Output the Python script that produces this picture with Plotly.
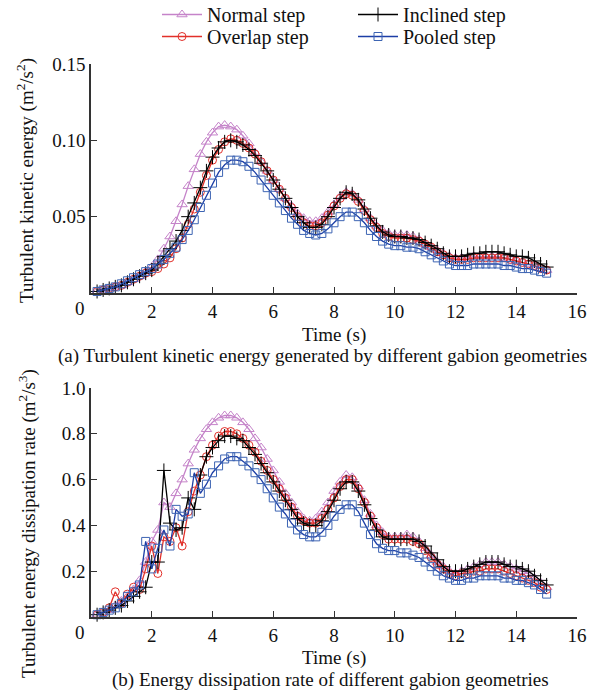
import plotly.graph_objects as go

# ---------------- data ----------------
time_s = [0.2, 0.4, 0.6, 0.8, 1.0, 1.2, 1.4, 1.6, 1.8, 2.0,
          2.2, 2.4, 2.6, 2.8, 3.0, 3.2, 3.4, 3.6, 3.8, 4.0,
          4.2, 4.4, 4.6, 4.8, 5.0, 5.2, 5.4, 5.6, 5.8, 6.0,
          6.2, 6.4, 6.6, 6.8, 7.0, 7.2, 7.4, 7.6, 7.8, 8.0,
          8.2, 8.4, 8.6, 8.8, 9.0, 9.2, 9.4, 9.6, 9.8, 10.0,
          10.2, 10.4, 10.6, 10.8, 11.0, 11.2, 11.4, 11.6, 11.8, 12.0,
          12.2, 12.4, 12.6, 12.8, 13.0, 13.2, 13.4, 13.6, 13.8, 14.0,
          14.2, 14.4, 14.6, 14.8, 15.0]

# (a) turbulent kinetic energy (m2/s2)
tke_normal = [0.001, 0.002, 0.003, 0.004, 0.005, 0.007, 0.009, 0.011, 0.014, 0.017,
              0.022, 0.029, 0.037, 0.047, 0.058, 0.070, 0.081, 0.091, 0.099, 0.105,
              0.109, 0.110, 0.109, 0.107, 0.103, 0.098, 0.092, 0.086, 0.080, 0.074,
              0.068, 0.062, 0.057, 0.052, 0.049, 0.047, 0.047, 0.049, 0.053, 0.058,
              0.063, 0.066, 0.065, 0.061, 0.055, 0.049, 0.044, 0.041, 0.039, 0.038,
              0.038, 0.038, 0.037, 0.035, 0.032, 0.030, 0.028, 0.026, 0.024, 0.023,
              0.023, 0.023, 0.024, 0.024, 0.024, 0.024, 0.024, 0.023, 0.022, 0.021,
              0.020, 0.019, 0.018, 0.016, 0.015]
tke_overlap = [0.001, 0.002, 0.003, 0.004, 0.005, 0.007, 0.009, 0.011, 0.013, 0.014,
               0.016, 0.019, 0.023, 0.029, 0.036, 0.045, 0.055, 0.066, 0.077, 0.087,
               0.094, 0.099, 0.101, 0.100, 0.098, 0.095, 0.091, 0.086, 0.080, 0.074,
               0.068, 0.062, 0.056, 0.050, 0.046, 0.044, 0.044, 0.046, 0.051, 0.057,
               0.062, 0.065, 0.064, 0.060, 0.054, 0.048, 0.043, 0.039, 0.037, 0.036,
               0.036, 0.036, 0.035, 0.034, 0.032, 0.030, 0.027, 0.025, 0.023, 0.022,
               0.022, 0.022, 0.023, 0.023, 0.023, 0.023, 0.023, 0.023, 0.022, 0.021,
               0.020, 0.019, 0.018, 0.016, 0.015]
tke_inclined = [0.001, 0.002, 0.003, 0.004, 0.005, 0.007, 0.009, 0.011, 0.013, 0.015,
                0.019, 0.024, 0.029, 0.034, 0.041, 0.050, 0.059, 0.069, 0.080, 0.089,
                0.095, 0.099, 0.100, 0.099, 0.097, 0.094, 0.090, 0.085, 0.080, 0.074,
                0.068, 0.062, 0.056, 0.050, 0.046, 0.043, 0.043, 0.045, 0.050, 0.056,
                0.062, 0.066, 0.065, 0.061, 0.055, 0.049, 0.044, 0.040, 0.038, 0.037,
                0.037, 0.036, 0.036, 0.035, 0.033, 0.031, 0.029, 0.026, 0.024, 0.024,
                0.024, 0.025, 0.026, 0.026, 0.027, 0.027, 0.027, 0.026, 0.025, 0.024,
                0.024, 0.023, 0.021, 0.019, 0.017]
tke_pooled = [0.001, 0.002, 0.003, 0.004, 0.006, 0.008, 0.010, 0.012, 0.014, 0.016,
              0.019, 0.022, 0.026, 0.030, 0.035, 0.041, 0.048, 0.056, 0.064, 0.072,
              0.079, 0.084, 0.087, 0.087, 0.086, 0.083, 0.079, 0.074, 0.069, 0.064,
              0.059, 0.054, 0.049, 0.045, 0.041, 0.039, 0.038, 0.039, 0.042, 0.046,
              0.050, 0.053, 0.053, 0.050, 0.046, 0.041, 0.037, 0.034, 0.032, 0.031,
              0.031, 0.030, 0.030, 0.029, 0.027, 0.025, 0.023, 0.021, 0.019, 0.018,
              0.018, 0.018, 0.019, 0.019, 0.019, 0.019, 0.019, 0.018, 0.018, 0.017,
              0.016, 0.016, 0.015, 0.014, 0.013]

# (b) turbulent energy dissipation rate (m2/s3)
edr_normal = [0.01, 0.02, 0.03, 0.05, 0.07, 0.09, 0.12, 0.16, 0.24, 0.33,
              0.38, 0.50, 0.48, 0.54, 0.60, 0.67, 0.73, 0.78, 0.82, 0.85,
              0.87, 0.88, 0.88, 0.87, 0.85, 0.82, 0.78, 0.74, 0.69, 0.64,
              0.59, 0.54, 0.50, 0.46, 0.43, 0.42, 0.43, 0.46, 0.50, 0.55,
              0.59, 0.62, 0.61, 0.57, 0.51, 0.45, 0.40, 0.37, 0.35, 0.35,
              0.35, 0.36, 0.35, 0.33, 0.30, 0.27, 0.24, 0.22, 0.20, 0.19,
              0.20, 0.21, 0.22, 0.23, 0.24, 0.24, 0.24, 0.23, 0.22, 0.21,
              0.20, 0.19, 0.17, 0.15, 0.13]
edr_overlap = [0.01, 0.02, 0.04, 0.11, 0.06, 0.10, 0.13, 0.12, 0.21, 0.31,
               0.19, 0.35, 0.33, 0.39, 0.31, 0.46, 0.55, 0.62, 0.70, 0.75,
               0.79, 0.81, 0.81, 0.80, 0.78, 0.75, 0.72, 0.68, 0.64, 0.60,
               0.56, 0.52, 0.48, 0.44, 0.42, 0.41, 0.41, 0.43, 0.47, 0.52,
               0.57, 0.60, 0.60, 0.56, 0.50, 0.44, 0.39, 0.36, 0.34, 0.34,
               0.34, 0.34, 0.33, 0.32, 0.29, 0.26, 0.23, 0.21, 0.19, 0.18,
               0.19, 0.19, 0.20, 0.20, 0.21, 0.21, 0.21, 0.20, 0.19, 0.18,
               0.17, 0.16, 0.15, 0.13, 0.12]
edr_inclined = [0.01, 0.02, 0.03, 0.04, 0.05, 0.07, 0.09, 0.11, 0.13, 0.24,
                0.24, 0.64, 0.41, 0.38, 0.39, 0.52, 0.47, 0.62, 0.70, 0.74,
                0.77, 0.79, 0.79, 0.78, 0.77, 0.74, 0.71, 0.67, 0.63, 0.59,
                0.55, 0.51, 0.47, 0.43, 0.41, 0.40, 0.40, 0.42, 0.46, 0.51,
                0.56, 0.59, 0.59, 0.55, 0.49, 0.43, 0.38, 0.35, 0.34, 0.34,
                0.34, 0.34, 0.34, 0.33, 0.31, 0.28, 0.25, 0.22, 0.20, 0.20,
                0.20, 0.21, 0.22, 0.23, 0.24, 0.24, 0.24, 0.23, 0.22, 0.22,
                0.21, 0.20, 0.18, 0.16, 0.14]
edr_pooled = [0.01, 0.02, 0.03, 0.04, 0.06, 0.09, 0.11, 0.14, 0.33, 0.21,
              0.30, 0.38, 0.31, 0.47, 0.44, 0.45, 0.63, 0.54, 0.58, 0.63,
              0.66, 0.69, 0.70, 0.70, 0.68, 0.66, 0.63, 0.60, 0.56, 0.52,
              0.48, 0.45, 0.41, 0.38, 0.36, 0.35, 0.35, 0.37, 0.40, 0.44,
              0.47, 0.49, 0.49, 0.46, 0.41, 0.36, 0.32, 0.30, 0.29, 0.29,
              0.28, 0.28, 0.27, 0.26, 0.24, 0.22, 0.20, 0.18, 0.17, 0.16,
              0.16, 0.17, 0.17, 0.18, 0.18, 0.18, 0.18, 0.17, 0.17, 0.16,
              0.16, 0.15, 0.14, 0.12, 0.10]

series_names = ["Normal step", "Overlap step", "Inclined step", "Pooled step"]
x_ticks = [2, 4, 6, 8, 10, 12, 14, 16]
y_ticks_a = [0.05, 0.10, 0.15]
y_tick_text_a = ["0.05", "0.10", "0.15"]
y_ticks_b = [0.2, 0.4, 0.6, 0.8, 1.0]
y_tick_text_b = ["0.2", "0.4", "0.6", "0.8", "1.0"]

# ---------------- style ----------------
W, H = 611, 691
FONT = "Liberation Serif, Times New Roman, serif"


def px_x(p):
    """screen pixel x -> paper fraction"""
    return p / W


def px_y(p):
    """screen pixel y (from top) -> paper fraction"""
    return 1 - p / H


styles = {
    "Normal step":   dict(color="#c583c9", mcolor="#c583c9", symbol="triangle-up-open", size=9,
                          legend="legend", lx=157, ly=-5),
    "Overlap step":  dict(color="#e2302a", mcolor="#e2302a", symbol="circle-open", size=8,
                          legend="legend2", lx=157, ly=17),
    "Inclined step": dict(color="#000000", mcolor="#000000", symbol="cross-thin-open", size=10,
                          legend="legend3", lx=353, ly=-5),
    "Pooled step":   dict(color="#1c3ea6", mcolor="#3d64b3", symbol="square-open", size=8,
                          legend="legend4", lx=353, ly=17),
}

fig = go.Figure()

data_a = [tke_normal, tke_overlap, tke_inclined, tke_pooled]
data_b = [edr_normal, edr_overlap, edr_inclined, edr_pooled]

for name, ya, yb in zip(series_names, data_a, data_b):
    s = styles[name]
    for yv, xa, yax, show in [(ya, "x", "y", True), (yb, "x2", "y2", False)]:
        fig.add_trace(go.Scatter(
            x=time_s, y=yv, xaxis=xa, yaxis=yax, name=name,
            mode="lines+markers", showlegend=show, legend=s["legend"],
            cliponaxis=False,
            line=dict(color=s["color"], width=1.3),
            marker=dict(symbol=s["symbol"], size=s["size"], color=s["mcolor"],
                        line=dict(color=s["mcolor"], width=1)),
        ))

axis_common = dict(
    showline=True, linecolor="#333333", linewidth=1.5, showgrid=False, zeroline=False,
    ticks="inside", ticklen=6, tickwidth=1.3, tickcolor="#333333", automargin=False,
    tickfont=dict(family=FONT, size=19, color="#111111"),
)
xdom = [px_x(91), px_x(577)]

legend_layouts = {}
for name in series_names:
    s = styles[name]
    legend_layouts[s["legend"]] = dict(
        x=px_x(s["lx"]), y=px_y(s["ly"]), xanchor="left", yanchor="top",
        orientation="v", bgcolor="rgba(0,0,0,0)", borderwidth=0,
        font=dict(family=FONT, size=20, color="#111111"), itemwidth=40)

fig.update_layout(
    width=W, height=H,
    margin=dict(l=0, r=0, t=0, b=0, autoexpand=False),
    paper_bgcolor="white", plot_bgcolor="white",
    font=dict(family=FONT, size=19, color="#111111"),
    xaxis=dict(domain=xdom, range=[0, 16], tickvals=x_ticks, anchor="y", **axis_common),
    yaxis=dict(domain=[px_y(293), px_y(64)], range=[0, 0.15], tickvals=y_ticks_a,
               ticktext=y_tick_text_a, anchor="x", **axis_common),
    xaxis2=dict(domain=xdom, range=[0, 16], tickvals=x_ticks, anchor="y2", **axis_common),
    yaxis2=dict(domain=[px_y(617), px_y(388)], range=[0, 1.0], tickvals=y_ticks_b,
                ticktext=y_tick_text_b, anchor="x2", **axis_common),
    **legend_layouts,
)

ann_font = dict(family=FONT, size=19, color="#111111")
annotations = [
    dict(text="Turbulent kinetic energy (m<sup>2</sup>/s<sup>2</sup>)", x=px_x(25), y=px_y(181),
         textangle=-90),
    dict(text="Turbulent energy dissipation rate (m<sup>2</sup>/s<sup>3</sup>)", x=px_x(27), y=px_y(524),
         textangle=-90),
    dict(text="Time (s)", x=px_x(334), y=px_y(335)),
    dict(text="(a) Turbulent kinetic energy generated by different gabion geometries", x=px_x(322), y=px_y(356)),
    dict(text="Time (s)", x=px_x(334), y=px_y(658)),
    dict(text="(b) Energy dissipation rate of different gabion geometries", x=px_x(330), y=px_y(680)),
    dict(text="0", x=px_x(80), y=px_y(309)),
    dict(text="0", x=px_x(80), y=px_y(632)),
]
for a in annotations:
    fig.add_annotation(xref="paper", yref="paper", showarrow=False, xanchor="center",
                       yanchor="middle", font=ann_font, **a)

# remove the default page margin so the figure sits at the window's top-left corner
fig.write_html("out.html", config={"displayModeBar": False},
               post_script="document.body.style.margin='0';")
